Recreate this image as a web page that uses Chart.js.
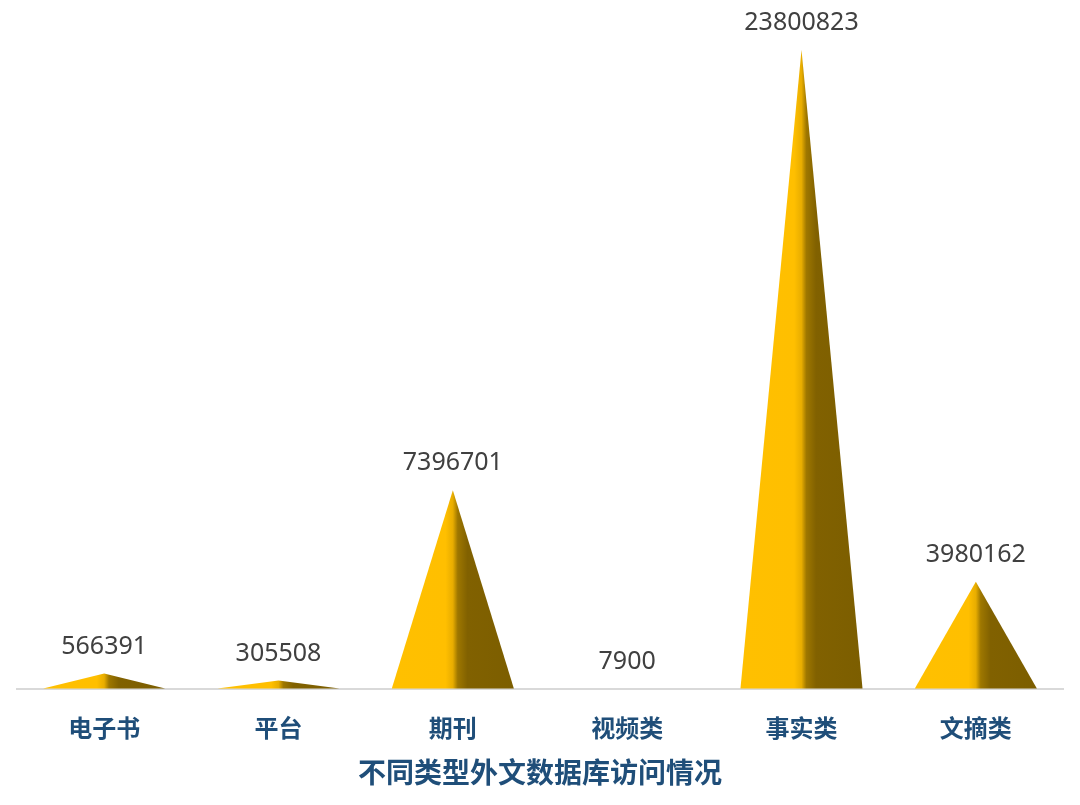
<!DOCTYPE html>
<html>
<head>
<meta charset="utf-8">
<script src="https://cdn.jsdelivr.net/npm/chart.js@4/dist/chart.umd.min.js"></script>
<style>
  html, body { margin: 0; padding: 0; background: #fff; }
  #wrap { width: 1080px; height: 805px; }
</style>
</head>
<body>
<div id="wrap"><canvas id="c"></canvas></div>
<script>
const categories = ['电子书', '平台', '期刊', '视频类', '事实类', '文摘类'];
const visits = [566391, 305508, 7396701, 7900, 23800823, 3980162];
const axisTitle = '不同类型外文数据库访问情况';

// draws each bar as a two-tone pyramid, then the value above the apex
const pyramids = {
  id: 'pyramids',
  afterDatasetsDraw(chart) {
    const ctx = chart.ctx;
    const meta = chart.getDatasetMeta(0);
    meta.data.forEach((bar, i) => {
      const x = bar.x, top = bar.y, base = bar.base, half = bar.width / 2;
      const g = ctx.createLinearGradient(x - half, 0, x + half, 0);
      g.addColorStop(0, '#FFC000');
      g.addColorStop(0.44, '#FFBF00');
      g.addColorStop(0.5, '#E8AD00');
      g.addColorStop(0.54, '#9E7700');
      g.addColorStop(0.62, '#816100');
      g.addColorStop(1, '#7C5E00');
      ctx.save();
      ctx.beginPath();
      ctx.moveTo(x - half, base);
      ctx.lineTo(x, top);
      ctx.lineTo(x + half, base);
      ctx.closePath();
      ctx.fillStyle = g;
      ctx.fill();
      ctx.restore();

      ctx.save();
      ctx.font = '25px "Noto Sans", "Open Sans", sans-serif';
      ctx.fillStyle = '#404040';
      ctx.textAlign = 'center';
      ctx.textBaseline = 'middle';
      ctx.fillText(String(visits[i]), x, top - 27);
      ctx.restore();
    });
  }
};

new Chart(document.getElementById('c'), {
  type: 'bar',
  data: {
    labels: categories,
    datasets: [{
      data: visits,
      backgroundColor: 'rgba(0,0,0,0)',
      barPercentage: 0.7,
      categoryPercentage: 1
    }]
  },
  options: {
    responsive: true,
    maintainAspectRatio: false,
    animation: false,
    layout: { padding: { top: 50, left: 17, right: 17, bottom: 16 } },
    plugins: {
      legend: { display: false },
      tooltip: { enabled: false }
    },
    scales: {
      x: {
        grid: { display: false, drawTicks: false },
        border: { display: true, color: '#D9D9D9', width: 2 },
        ticks: {
          color: '#1F4E79',
          font: { family: '"Noto Sans CJK SC", sans-serif', size: 24, weight: 'bold' },
          padding: 25
        },
        title: {
          display: true,
          text: axisTitle,
          color: '#1F4E79',
          font: { family: '"Noto Sans CJK SC", sans-serif', size: 28, weight: 'bold' },
          padding: { top: -12, bottom: 0 }
        }
      },
      y: {
        display: false,
        min: 0,
        max: 23800823
      }
    }
  },
  plugins: [pyramids]
});
</script>
</body>
</html>
